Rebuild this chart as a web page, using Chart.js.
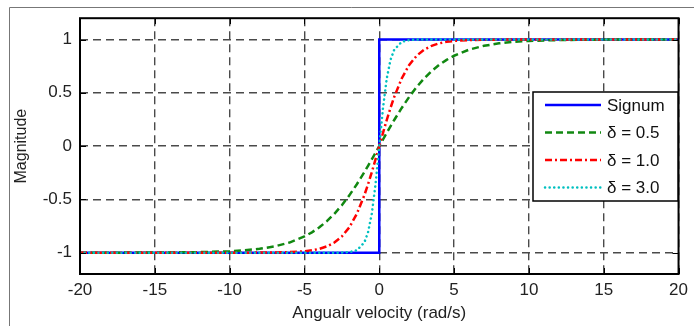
<!DOCTYPE html>
<html>
<head>
<meta charset="utf-8">
<script src="https://cdn.jsdelivr.net/npm/chart.js@4.4.1/dist/chart.umd.min.js"></script>
<style>
  html, body { margin: 0; padding: 0; background: #fff; }
  #wrap { position: relative; width: 694px; height: 326px; }
</style>
</head>
<body>
<div id="wrap"><canvas id="sigChart" width="694" height="326"></canvas></div>
<script>
// values
const xSmooth = [-20, -15, -12, -10, -9, -8, -7, -6, -5, -4.5, -4, -3.5, -3, -2.5, -2, -1.5, -1, -0.75, -0.5, -0.25,
  0, 0.25, 0.5, 0.75, 1, 1.5, 2, 2.5, 3, 3.5, 4, 4.5, 5, 6, 7, 8, 9, 10, 12, 15, 20];
const delta05 = [-1, -0.999, -0.995, -0.987, -0.978, -0.964, -0.941, -0.905, -0.848, -0.809, -0.762, -0.704, -0.635, -0.555, -0.462, -0.358, -0.245, -0.185, -0.124, -0.062,
  0, 0.062, 0.124, 0.185, 0.245, 0.358, 0.462, 0.555, 0.635, 0.704, 0.762, 0.809, 0.848, 0.905, 0.941, 0.964, 0.978, 0.987, 0.995, 0.999, 1];
const delta10 = [-1, -1, -1, -1, -1, -0.999, -0.998, -0.995, -0.987, -0.978, -0.964, -0.941, -0.905, -0.848, -0.762, -0.635, -0.462, -0.358, -0.245, -0.124,
  0, 0.124, 0.245, 0.358, 0.462, 0.635, 0.762, 0.848, 0.905, 0.941, 0.964, 0.978, 0.987, 0.995, 0.998, 0.999, 1, 1, 1, 1, 1];
const delta30 = [-1, -1, -1, -1, -1, -1, -1, -1, -1, -1, -1, -1, -1, -0.999, -0.995, -0.978, -0.905, -0.809, -0.635, -0.358,
  0, 0.358, 0.635, 0.809, 0.905, 0.978, 0.995, 0.999, 1, 1, 1, 1, 1, 1, 1, 1, 1, 1, 1, 1, 1];
const xSignum = [-20, 0, 0, 20];
const ySignum = [-1, -1, 1, 1];

const xTicks = [-20, -15, -10, -5, 0, 5, 10, 15, 20];
const yTicks = [-1, -0.5, 0, 0.5, 1];
const seriesLabels = ["Signum", "\u03b4 = 0.5", "\u03b4 = 1.0", "\u03b4 = 3.0"];

const FONT = "'Liberation Sans', Arial, sans-serif";
const toPts = (xs, ys) => xs.map((x, i) => ({ x: x, y: ys[i] }));

// box + inward ticks, like matlab
const boxPlugin = {
  id: 'box',
  afterDatasetsDraw(chart) {
    const { ctx, chartArea: a, scales } = chart;
    ctx.save();
    ctx.strokeStyle = '#000';
    ctx.lineWidth = 1;
    ctx.setLineDash([]);
    ctx.beginPath();
    xTicks.forEach(v => {
      const px = Math.round(scales.x.getPixelForValue(v)) + 0.5;
      ctx.moveTo(px, a.bottom); ctx.lineTo(px, a.bottom - 6);
      ctx.moveTo(px, a.top); ctx.lineTo(px, a.top + 6);
    });
    yTicks.forEach(v => {
      const py = Math.round(scales.y.getPixelForValue(v)) + 0.5;
      ctx.moveTo(a.left, py); ctx.lineTo(a.left + 6, py);
      ctx.moveTo(a.right, py); ctx.lineTo(a.right - 6, py);
    });
    ctx.stroke();
    ctx.lineWidth = 2;
    ctx.strokeRect(a.left, a.top, a.right - a.left, a.bottom - a.top);
    ctx.restore();
  },
  afterDraw(chart) {
    const ctx = chart.ctx;
    ctx.save();
    // page frame around the figure
    ctx.strokeStyle = '#777';
    ctx.lineWidth = 1;
    ctx.beginPath();
    ctx.moveTo(9.5, 326); ctx.lineTo(9.5, 7.5); ctx.lineTo(694, 7.5);
    ctx.stroke();

    // legend inside the axes
    const lx = 533, ly = 92, lw = 145, lh = 109;
    ctx.fillStyle = '#fff';
    ctx.fillRect(lx, ly, lw, lh);
    ctx.strokeStyle = '#000';
    ctx.lineWidth = 1.5;
    ctx.strokeRect(lx, ly, lw, lh);
    ctx.font = "17px " + FONT;
    ctx.textBaseline = 'middle';
    chart.data.datasets.forEach((ds, i) => {
      const y = ly + 13 + i * 27.5;
      ctx.strokeStyle = ds.borderColor;
      ctx.lineWidth = ds.borderWidth;
      ctx.lineCap = ds.borderCapStyle || 'butt';
      ctx.setLineDash(ds.borderDash || []);
      ctx.beginPath();
      ctx.moveTo(lx + 12, y); ctx.lineTo(lx + 68, y);
      ctx.stroke();
      ctx.setLineDash([]);
      ctx.fillStyle = '#111';
      ctx.fillText(ds.label, lx + 74, y + 1);
    });
    ctx.restore();
  }
};

const ctx = document.getElementById("sigChart").getContext("2d");
const sigChart = new Chart(ctx, {
  type: 'scatter',
  data: {
    datasets: [
      { label: seriesLabels[0], data: toPts(xSignum, ySignum), borderColor: "#0000ff", borderWidth: 2.5, order: 4 },
      { label: seriesLabels[1], data: toPts(xSmooth, delta05), borderColor: "#118811", borderWidth: 2.5, borderDash: [7, 4], order: 3 },
      { label: seriesLabels[2], data: toPts(xSmooth, delta10), borderColor: "#ff0000", borderWidth: 2.5, borderDash: [7, 3, 2, 3], order: 2 },
      { label: seriesLabels[3], data: toPts(xSmooth, delta30), borderColor: "#00c0c0", borderWidth: 2.5, borderDash: [0.1, 4.5], borderCapStyle: 'round', order: 1 }
    ].map(d => Object.assign({ showLine: true, pointRadius: 0, pointHoverRadius: 0, tension: 0, fill: false, backgroundColor: d.borderColor }, d))
  },
  options: {
    animation: false,
    responsive: false,
    layout: { padding: { left: 0, top: 14, right: 12, bottom: 0 } },
    plugins: { legend: { display: false }, tooltip: { enabled: false } },
    scales: {
      x: {
        type: 'linear',
        min: -20, max: 20,
        afterBuildTicks: s => { s.ticks = xTicks.map(v => ({ value: v })); },
        afterFit: s => { s.height = 52; },
        grid: { color: '#4a4a4a', lineWidth: 1.4, drawTicks: false },
        border: { display: false, dash: [8, 5] },
        ticks: { color: '#222', font: { family: FONT, size: 17 }, padding: 6, maxRotation: 0 },
        title: { display: true, text: "Angualr velocity (rad/s)", color: '#222', font: { family: FONT, size: 17 }, padding: { top: 0, bottom: 2 } }
      },
      y: {
        min: -1.2, max: 1.2,
        afterBuildTicks: s => { s.ticks = yTicks.map(v => ({ value: v })); },
        afterFit: s => { s.width = 80; },
        grid: { color: '#4a4a4a', lineWidth: 1.4, drawTicks: false },
        border: { display: false, dash: [8, 5] },
        ticks: { color: '#222', font: { family: FONT, size: 17 }, padding: 8, callback: v => String(v) },
        title: { display: true, text: "Magnitude", color: '#222', font: { family: FONT, size: 16 }, padding: { top: 12, bottom: 0 } }
      }
    }
  },
  plugins: [boxPlugin]
});
</script>
</body>
</html>
